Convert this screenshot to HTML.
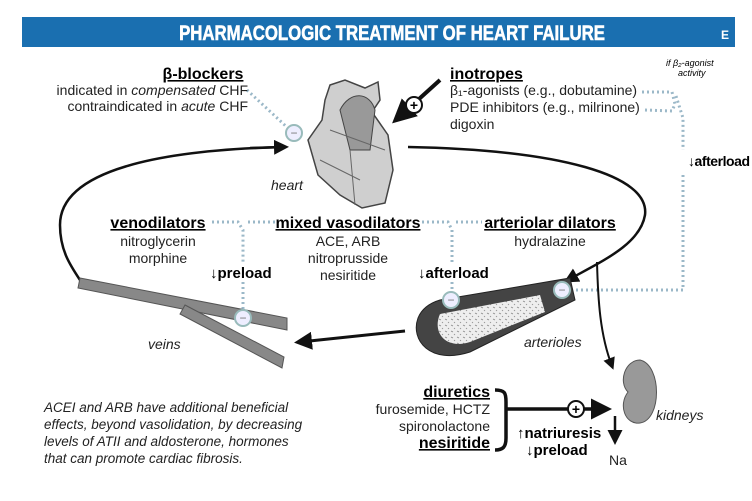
<!DOCTYPE html>
<html><head><meta charset="utf-8"><style>
html,body{margin:0;padding:0;background:#fff;}
svg{display:block;font-family:"Liberation Sans",sans-serif;}
.b{font-weight:bold;font-size:16px;text-decoration:underline;}
.t{font-size:14px;fill:#222;}
.i{font-style:italic;}
.dot{stroke:#9bb8c8;stroke-width:3;stroke-dasharray:2 3;fill:none;}
</style></head><body>
<svg width="752" height="501" viewBox="0 0 752 501">
<defs>
<marker id="ah" markerWidth="6" markerHeight="6" refX="4" refY="3" orient="auto" markerUnits="strokeWidth"><path d="M0,0 L6,3 L0,6 Z" fill="#111"/></marker>
<pattern id="pt" width="6" height="6" patternUnits="userSpaceOnUse"><rect width="6" height="6" fill="#eee"/><path d="M1,1 l2,1 M4,4 l1,1" stroke="#888" stroke-width="0.8"/></pattern>
</defs>
<rect x="22" y="17" width="713" height="30" fill="#1a6fb0"/>
<text x="392" y="40" text-anchor="middle" fill="#fff" font-weight="bold" font-size="21" stroke="#fff" stroke-width="0.6" transform="translate(392 0) scale(0.8 1) translate(-392 0)">PHARMACOLOGIC TREATMENT OF HEART FAILURE</text>
<text x="721" y="39" fill="#fff" font-weight="bold" font-size="12">E</text>

<path class="dot" d="M247,90 L290,130"/>
<path class="dot" d="M642,92 L672,92 L675,104 L672,111 L645,110"/>
<path class="dot" d="M676,96 L683,118 L683,150 M683,175 L683,290 L574,290"/>
<path class="dot" d="M212,222 L238,222 L243,230 L243,262 M243,282 L243,310"/>
<path class="dot" d="M248,222 L276,222"/>
<path class="dot" d="M422,222 L448,222 L452,230 L452,262 M452,282 L452,292 M456,222 L482,222"/>

<path d="M284,147 C160,150 60,170 60,225 C60,250 70,265 80,280" stroke="#111" stroke-width="2.5" fill="none"/>
<path d="M250,148 L284,147" stroke="#111" stroke-width="2.5" marker-end="url(#ah)"/>
<path d="M408,147 C560,150 650,175 645,215 C640,245 600,262 568,280" stroke="#111" stroke-width="2.5" fill="none" marker-end="url(#ah)"/>
<path d="M597,262 C598,300 600,335 612,366" stroke="#111" stroke-width="2" fill="none" marker-end="url(#ah)"/>
<path d="M405,331 L300,342" stroke="#111" stroke-width="3" fill="none" marker-end="url(#ah)"/>
<path d="M440,80 L398,118" stroke="#111" stroke-width="4" marker-end="url(#ah)"/>
<circle cx="414" cy="105" r="8" fill="#fff" stroke="#111" stroke-width="2"/><text x="414" y="110" text-anchor="middle" font-size="14" font-weight="bold">+</text>

<path d="M330,85 L345,80 L365,88 L378,82 L380,100 L372,112 L388,135 L393,170 L385,203 L362,208 L340,195 L318,175 L308,140 L322,120 L325,100 Z" fill="#cfcfcf" stroke="#444" stroke-width="1.5"/>
<path d="M340,110 C350,90 370,92 375,110 L370,150 L350,150 Z" fill="#999" stroke="#444"/>
<path d="M320,160 L360,180 M330,130 L385,150 M350,150 L355,205" stroke="#666" fill="none"/>
<circle cx="294" cy="133" r="8" fill="#eef" stroke="#9bb" stroke-width="2"/><text x="294" y="137" text-anchor="middle" font-size="12" fill="#777">−</text>
<text x="271" y="190" class="t i">heart</text>

<text x="203" y="79" text-anchor="middle" class="b">β-blockers</text>
<text x="248" y="95" text-anchor="end" class="t">indicated in <tspan class="i">compensated</tspan> CHF</text>
<text x="248" y="111" text-anchor="end" class="t">contraindicated in <tspan class="i">acute</tspan> CHF</text>

<text x="450" y="79" class="b">inotropes</text>
<text x="450" y="95" class="t">β₁-agonists (e.g., dobutamine)</text>
<text x="450" y="112" class="t">PDE inhibitors (e.g., milrinone)</text>
<text x="450" y="129" class="t">digoxin</text>
<text x="666" y="66" font-size="9" class="i">if β₂-agonist</text>
<text x="678" y="76" font-size="9" class="i">activity</text>
<text x="688" y="166" font-size="14" font-weight="bold" textLength="62">↓afterload</text>

<text x="158" y="228" text-anchor="middle" class="b">venodilators</text>
<text x="158" y="246" text-anchor="middle" class="t">nitroglycerin</text>
<text x="158" y="263" text-anchor="middle" class="t">morphine</text>
<text x="348" y="228" text-anchor="middle" class="b">mixed vasodilators</text>
<text x="348" y="246" text-anchor="middle" class="t">ACE, ARB</text>
<text x="348" y="263" text-anchor="middle" class="t">nitroprusside</text>
<text x="348" y="280" text-anchor="middle" class="t">nesiritide</text>
<text x="550" y="228" text-anchor="middle" class="b">arteriolar dilators</text>
<text x="550" y="246" text-anchor="middle" class="t">hydralazine</text>
<text x="210" y="278" font-size="15" font-weight="bold">↓preload</text>
<text x="418" y="278" font-size="15" font-weight="bold">↓afterload</text>

<path d="M80,278 L287,318 L287,330 L78,288 Z" fill="#888" stroke="#555"/>
<path d="M185,305 L284,357 L282,368 L180,314 Z" fill="#888" stroke="#555"/>
<circle cx="243" cy="318" r="8" fill="#eef" stroke="#9bb" stroke-width="2"/><text x="243" y="322" text-anchor="middle" font-size="12" fill="#777">−</text>
<text x="148" y="349" class="t i">veins</text>

<path d="M440,300 L570,278 L575,300 L470,352 C430,365 410,340 418,318 C422,308 430,303 440,300 Z" fill="#444" stroke="#222"/>
<path d="M440,314 L540,295 L545,312 L470,342 C445,350 432,332 440,314 Z" fill="url(#pt)"/>
<circle cx="451" cy="300" r="8" fill="#eef" stroke="#9bb" stroke-width="2"/><text x="451" y="304" text-anchor="middle" font-size="12" fill="#777">−</text>
<circle cx="562" cy="290" r="8" fill="#eef" stroke="#9bb" stroke-width="2"/><text x="562" y="294" text-anchor="middle" font-size="12" fill="#777">−</text>
<text x="524" y="347" class="t i">arterioles</text>

<path d="M640,360 C662,365 662,420 640,423 C625,425 618,405 628,392 C618,382 625,360 640,360 Z" fill="#999" stroke="#555"/>
<text x="656" y="420" class="t i">kidneys</text>
<path d="M615,416 L615,440" stroke="#111" stroke-width="2.5" marker-end="url(#ah)"/>
<text x="609" y="465" class="t">Na</text>

<text x="490" y="397" text-anchor="end" class="b">diuretics</text>
<text x="490" y="414" text-anchor="end" class="t">furosemide, HCTZ</text>
<text x="490" y="431" text-anchor="end" class="t">spironolactone</text>
<text x="490" y="448" text-anchor="end" class="b" font-size="15">nesiritide</text>
<path d="M495,390 C505,390 506,393 506,402 L506,438 C506,447 503,450 495,450" stroke="#111" stroke-width="3.5" fill="none"/>
<path d="M507,409 L605,409" stroke="#111" stroke-width="3.5" marker-end="url(#ah)"/>
<circle cx="576" cy="409" r="8" fill="#fff" stroke="#111" stroke-width="2"/><text x="576" y="414" text-anchor="middle" font-size="14" font-weight="bold">+</text>
<text x="517" y="438" font-size="15" font-weight="bold">↑natriuresis</text>
<text x="526" y="455" font-size="15" font-weight="bold">↓preload</text>

<g font-size="13.5" font-style="italic" fill="#222">
<text x="44" y="412">ACEI and ARB have additional beneficial</text>
<text x="44" y="429">effects, beyond vasolidation, by decreasing</text>
<text x="44" y="446">levels of ATII and aldosterone, hormones</text>
<text x="44" y="463">that can promote cardiac fibrosis.</text>
</g>
</svg>
</body></html>
